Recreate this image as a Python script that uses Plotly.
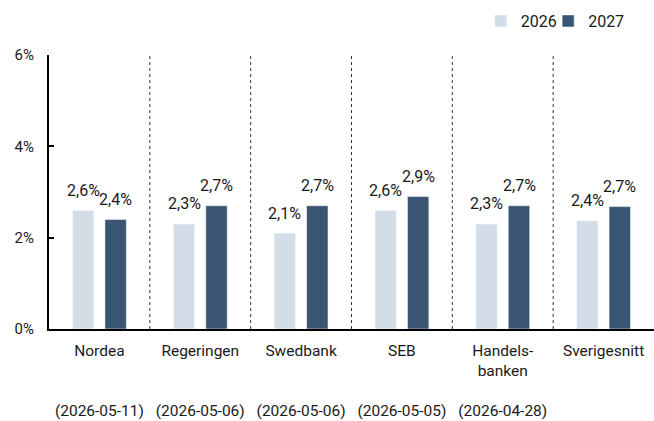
import plotly.graph_objects as go

categories = ["Nordea", "Regeringen", "Swedbank", "SEB", "Handels-<br>banken", "Sverigesnitt"]
dates = ["(2026-05-11)", "(2026-05-06)", "(2026-05-06)", "(2026-05-05)", "(2026-04-28)", ""]
series_names = ["2026", "2027"]
values_2026 = [2.6, 2.3, 2.1, 2.6, 2.3, 2.37]
values_2027 = [2.4, 2.7, 2.7, 2.9, 2.7, 2.68]
colors = ["#d3dde8", "#3a5573"]
y_ticks = [0, 2, 4, 6]
y_ticklabels = ["0%", "2%", "4%", "6%"]

FONT = "Roboto"

def build_ticktext(name, date):
    lines = name.split("<br>")
    while len(lines) < 3:
        lines.append(" ")
    lines.append(date if date else " ")
    return "<br>".join(lines)

ticktext = [build_ticktext(c, d) for c, d in zip(categories, dates)]
x_idx = list(range(len(categories)))

legend_ids = ["legend", "legend2"]
legend_right_x = [0.859, 0.962]

fig = go.Figure()
for name, vals, col, lid in zip(series_names, [values_2026, values_2027], colors, legend_ids):
    fig.add_trace(go.Bar(
        x=x_idx, y=vals, name=name, legend=lid,
        marker=dict(color=col, line=dict(color="white", width=0.5)),
    ))

annotations = []
for shift, vals in zip([-16.25, 16.25], [values_2026, values_2027]):
    for i, v in enumerate(vals):
        annotations.append(dict(
            x=i, y=v, xref="x", yref="y",
            text=f"{v:.1f}%".replace(".", ","),
            showarrow=False, xshift=shift, yshift=20, yanchor="middle",
            font=dict(family=FONT, size=16, color="#1a1a1a"),
        ))

shapes = []
for i in range(len(categories) - 1):
    shapes.append(dict(
        type="line", xref="x", yref="y",
        x0=i + 0.5, x1=i + 0.5, y0=0, y1=y_ticks[-1],
        line=dict(color="#333333", width=1, dash="dot"), layer="below",
    ))

legend_style = dict(
    orientation="h", xref="container", yref="container",
    xanchor="right", y=0.95, yanchor="middle",
    font=dict(family=FONT, size=16), itemwidth=30,
    bgcolor="rgba(0,0,0,0)",
)

fig.update_layout(
    width=654, height=421,
    margin=dict(l=49, r=0, t=55, b=92, autoexpand=False),
    paper_bgcolor="white", plot_bgcolor="white",
    barmode="group", bargap=0.356, bargroupgap=0.34,
    font=dict(family=FONT, size=16, color="#1a1a1a"),
    showlegend=True,
    legend=dict(x=legend_right_x[0], **legend_style),
    legend2=dict(x=legend_right_x[1], **legend_style),
    annotations=annotations,
    shapes=shapes,
)
fig.update_xaxes(
    tickmode="array", tickvals=x_idx, ticktext=ticktext,
    range=[-0.5, len(categories) - 0.5],
    showline=True, linecolor="#000000", linewidth=2,
    showgrid=False, ticks="", zeroline=False,
    ticklabelstandoff=6, automargin=False,
    tickfont=dict(size=15.5),
)
fig.update_yaxes(
    range=[0, y_ticks[-1]], tickmode="array", tickvals=y_ticks, ticktext=y_ticklabels,
    showline=True, linecolor="#000000", linewidth=2,
    showgrid=False, zeroline=False,
    ticks="inside", ticklen=5, tickwidth=1.5, tickcolor="#000000",
    ticklabelstandoff=10, automargin=False,
    tickfont=dict(size=15),
)

fig.write_html("out.html", config={"displayModeBar": False},
               post_script="document.body.style.margin='0';")
